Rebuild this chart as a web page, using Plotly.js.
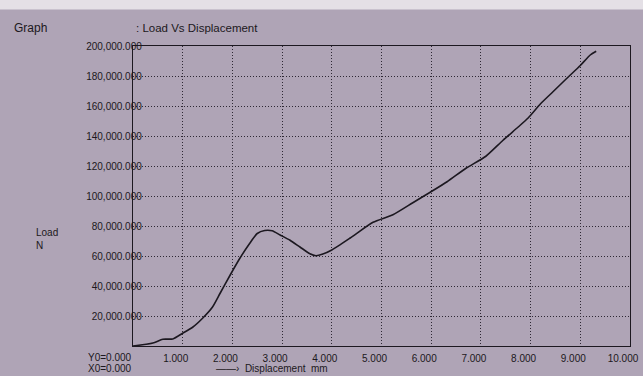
<!DOCTYPE html>
<html>
<head>
<meta charset="utf-8">
<script src="https://cdn.plot.ly/plotly-3.0.1.min.js"></script>
<style>html,body{margin:0;padding:0;background:#afa4b6;}#chart{width:643px;height:376px;}</style>
</head>
<body>
<div id="chart"></div>
<script>
// Displacement (mm)
var displacement = [0, 0.4, 0.6, 0.8, 1.0, 1.2, 1.4, 1.6, 1.75, 1.95, 2.15, 2.35, 2.5, 2.65, 2.8, 2.96, 3.16, 3.36, 3.56, 3.68, 3.82, 4.0, 4.37, 4.83, 5.23, 5.63, 5.98, 6.32, 6.7, 7.1, 7.44, 7.75, 7.95, 8.2, 8.45, 8.73, 9.0, 9.2, 9.32];
// Load (N)
var load = [0, 2000, 4500, 4700, 8500, 12500, 18500, 26000, 35000, 47000, 58500, 68500, 75000, 77000, 76800, 74000, 70500, 66000, 61500, 60200, 61300, 64000, 72000, 82500, 87500, 95500, 102500, 109500, 118500, 126500, 137000, 146000, 152000, 161500, 169500, 178500, 187000, 194000, 196500];

var xTicks = [1, 2, 3, 4, 5, 6, 7, 8, 9, 10];
var xTickLabels = ["1.000", "2.000", "3.000", "4.000", "5.000", "6.000", "7.000", "8.000", "9.000", "10.000"];
var yTicks = [20000, 40000, 60000, 80000, 100000, 120000, 140000, 160000, 180000, 200000];
var yTickLabels = ["20,000.000", "40,000.000", "60,000.000", "80,000.000", "100,000.000", "120,000.000", "140,000.000", "160,000.000", "180,000.000", "200,000.000"];

var ink = '#1c1820';
var font = {family: 'Liberation Sans, Arial, sans-serif', size: 10, color: ink};

var trace = {
  x: displacement, y: load, type: 'scatter', mode: 'lines',
  line: {color: ink, width: 1.6, shape: 'spline', smoothing: 0.6},
  hoverinfo: 'skip'
};

var bg = '#afa4b6';
var layout = {
  width: 643, height: 376,
  margin: {l: 133, r: 13, t: 46, b: 30},
  paper_bgcolor: bg,
  plot_bgcolor: bg,
  showlegend: false,
  font: font,
  xaxis: {
    range: [0, 10], tickvals: xTicks, ticktext: xTickLabels,
    showline: true, linecolor: ink, linewidth: 1.2, mirror: true,
    showgrid: true, gridcolor: '#2e2834', griddash: '1px,2px', gridwidth: 1,
    zeroline: false, ticks: '', tickfont: font, ticklabelshift: -7, ticklabelstandoff: 3, fixedrange: true
  },
  yaxis: {
    range: [0, 200000], tickvals: yTicks, ticktext: yTickLabels,
    showline: true, linecolor: ink, linewidth: 1.2, mirror: true,
    showgrid: true, gridcolor: '#2e2834', griddash: '1px,2px', gridwidth: 1,
    zeroline: false, ticks: '', tickfont: font, ticklabelstandoff: -12, fixedrange: true
  },
  shapes: [
    {type: 'rect', xref: 'paper', yref: 'paper', x0: -0.3, x1: 1.05, y0: 1.122, y1: 1.2, fillcolor: '#e4e0e6', line: {width: 0}, layer: 'below'}
  ],
  annotations: [
    {text: 'Graph', xref: 'paper', yref: 'paper', x: -0.243, y: 1.06, xanchor: 'left', yanchor: 'middle', showarrow: false, font: {family: font.family, size: 12, color: ink}},
    {text: ': Load Vs Displacement', xref: 'paper', yref: 'paper', x: 0.002, y: 1.06, xanchor: 'left', yanchor: 'middle', showarrow: false, font: {family: font.family, size: 11.5, color: ink}},
    {text: 'Load', xref: 'paper', yref: 'paper', x: -0.2, y: 0.38, xanchor: 'left', yanchor: 'middle', showarrow: false, font: font},
    {text: 'N', xref: 'paper', yref: 'paper', x: -0.2, y: 0.335, xanchor: 'left', yanchor: 'middle', showarrow: false, font: font},
    {text: 'Y0=0.000', xref: 'paper', yref: 'paper', x: 0.002, y: -0.037, xanchor: 'right', yanchor: 'middle', showarrow: false, font: font},
    {text: 'X0=0.000', xref: 'paper', yref: 'paper', x: 0.002, y: -0.075, xanchor: 'right', yanchor: 'middle', showarrow: false, font: font},
    {text: '——›  Displacement  mm', xref: 'paper', yref: 'paper', x: 0.162, y: -0.075, xanchor: 'left', yanchor: 'middle', showarrow: false, font: font}
  ]
};

Plotly.newPlot('chart', [trace], layout, {displayModeBar: false, staticPlot: true});
</script>
</body>
</html>
